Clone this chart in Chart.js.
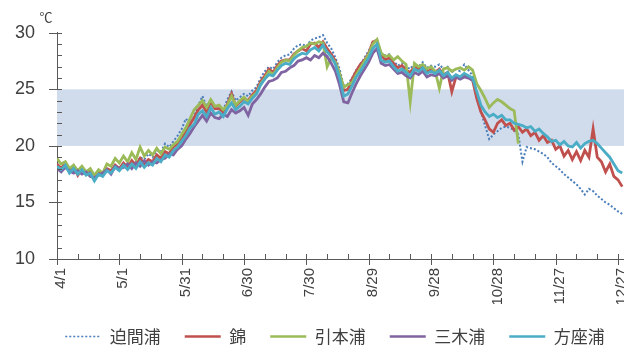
<!DOCTYPE html>
<html>
<head>
<meta charset="utf-8">
<script src="https://cdn.jsdelivr.net/npm/chart.js@4"></script>
<style>
  html, body { margin: 0; padding: 0; overflow: hidden; background: #fff; }
  canvas { display: block; }
</style>
</head>
<body>
<canvas id="c" width="680" height="353"></canvas>
<script>
// Days elapsed since 4/1 for each reading
const days = [
  0, 2, 4, 6, 8, 10, 12, 14, 16, 18, 20, 22, 24, 26, 28, 30, 32, 34, 36, 38,
  40, 42, 44, 46, 48, 50, 52, 54, 56, 58, 60, 62, 64, 66, 68, 70, 72, 74, 76, 78,
  80, 82, 84, 86, 88, 90, 92, 94, 96, 98, 100, 102, 104, 106, 108, 110, 112, 114, 116, 118,
  120, 122, 124, 126, 128, 130, 132, 134, 136, 138, 140, 142, 144, 146, 148, 150, 152, 154, 156, 158,
  160, 162, 164, 166, 168, 170, 172, 174, 176, 178, 180, 182, 184, 186, 188, 190, 192, 194, 196, 198,
  200, 202, 204, 206, 208, 210, 212, 214, 216, 218, 220, 222, 224, 226, 228, 230, 232, 234, 236, 238,
  240, 242, 244, 246, 248, 250, 252, 254, 256, 258, 260, 262, 264, 266, 268, 270, 272
];

// Axis tick positions (days) and their date labels
const tickDays = [0, 30, 60, 90, 120, 150, 180, 210, 240, 270];
const tickLabels = ['4/1', '5/1', '5/31', '6/30', '7/30', '8/29', '9/28', '10/28', '11/27', '12/27'];

const seriesNames = ['迫間浦', '錦', '引本浦', '三木浦', '方座浦'];

// Water temperature (℃)
const hazamaura = [
  18.3, 18.0, 18.2, 17.8, 17.9, 17.6, 17.8, 17.5, 17.6, 17.2, 17.6, 17.4, 17.9, 17.7, 18.2, 17.9, 18.4, 18.1, 18.6, 18.3,
  19.0, 18.8, 19.3, 19.0, 19.6, 19.5, 20.2, 19.9, 20.4, 20.9, 21.5, 22.4, 22.0, 22.6, 23.6, 24.4, 23.5, 24.0, 23.4, 23.6,
  23.2, 24.1, 24.8, 24.0, 24.3, 24.6, 24.4, 24.9, 25.2, 26.0, 26.6, 27.0, 26.8, 27.4, 27.8, 28.0, 28.1, 28.6, 28.9, 29.0,
  28.8, 29.3, 29.5, 29.6, 29.8, 29.1, 28.6, 27.8, 26.8, 25.3, 25.5, 26.0, 26.7, 27.2, 27.8, 28.4, 29.2, 29.4, 28.2, 28.0,
  28.1, 27.5, 27.1, 27.3, 27.0, 26.8, 27.3, 27.0, 27.4, 26.9, 27.1, 27.0, 27.2, 26.8, 27.0, 26.5, 26.8, 26.6, 27.2, 26.7,
  26.2, 24.6, 23.0, 21.8, 20.6, 21.0, 21.3, 21.6, 21.7, 21.6, 21.4, 21.0, 18.6, 19.9, 19.8, 19.7, 19.5, 19.3, 19.0, 18.5,
  18.2, 17.9, 17.5, 17.2, 16.9, 16.6, 16.2, 15.7, 16.2, 16.0, 15.6, 15.3, 15.0, 14.8, 14.5, 14.2, 14.0
];
const nishiki = [
  18.4, 18.0, 18.5, 17.7, 18.2, 17.4, 18.0, 17.6, 17.9, 17.1, 17.7, 17.5, 18.0, 17.8, 18.3, 18.0, 18.5, 18.1, 18.7, 18.3,
  18.9, 18.4, 18.8, 18.6, 19.2, 18.9, 19.5, 19.3, 19.9, 20.2, 20.7, 21.3, 21.9, 22.5, 23.2, 23.6, 23.0, 23.9, 23.3, 23.3,
  23.0, 23.7, 24.6, 23.5, 23.9, 24.2, 24.0, 24.5, 24.9, 25.7, 26.2, 26.8, 26.5, 27.1, 27.5, 27.6, 27.6, 28.1, 28.4, 28.6,
  28.4, 29.0, 29.1, 28.7, 29.2, 28.6, 28.1, 27.5, 26.3, 24.9, 25.0, 25.9, 26.6, 27.2, 27.6, 28.2, 29.2, 29.3, 28.0, 27.6,
  27.8, 27.3, 26.9, 27.1, 26.7, 26.5, 27.0, 26.8, 27.1, 26.6, 26.7, 26.5, 26.8, 26.3, 26.5, 24.8, 26.1, 26.0, 26.2, 26.1,
  25.8, 24.2, 23.0, 22.3, 21.5, 21.2, 22.0, 22.3, 21.8, 22.0, 21.4, 21.7, 21.2, 21.5, 20.9, 21.2, 20.5, 20.9, 20.3, 20.5,
  19.7, 20.0, 19.1, 19.6, 18.8, 19.5, 18.7, 19.6, 19.0, 21.5, 19.0, 18.6, 17.7, 18.4, 17.3, 17.0, 16.4
];
const hikimotoura = [
  18.9, 18.4, 18.6, 18.0, 18.3, 17.8, 18.2, 17.7, 18.0, 17.4, 17.9, 17.6, 18.4, 18.2, 18.9, 18.5, 19.1, 18.6, 19.4, 18.8,
  19.9, 19.1, 19.6, 19.2, 19.8, 19.3, 19.9, 19.7, 20.1, 20.4, 21.0, 21.6, 22.4, 23.2, 23.6, 24.0, 23.4, 24.1, 23.5, 23.6,
  23.2, 23.6, 24.4, 23.6, 24.0, 24.3, 23.9, 24.4, 24.7, 25.5, 26.0, 26.6, 26.3, 26.9, 27.4, 27.6, 27.5, 28.0, 28.4, 28.7,
  28.8, 29.1, 29.0, 29.2, 29.1, 27.0, 27.8, 27.4, 26.4, 25.2, 25.4, 25.6, 26.3, 26.9, 27.5, 28.1, 29.0, 29.4, 28.2, 27.9,
  28.0, 27.6, 27.9, 27.5, 27.2, 23.9, 27.3, 27.0, 27.2, 26.8, 27.0, 26.6, 25.1, 26.8, 26.9, 26.6, 26.8, 26.9, 26.7, 27.0,
  26.7, 25.5, 24.9, 24.2, 23.4, 23.8, 24.1, 23.9, 23.6, 23.3, 23.1, 20.2
];
const mikiura = [
  18.0, 17.7, 18.1, 17.8, 17.6, 17.8, 17.5, 17.7, 17.3, 17.2, 17.4, 17.6, 17.9, 17.5, 18.2, 18.0, 18.1, 18.4, 18.0, 18.5,
  18.2, 18.7, 18.3, 18.6, 18.5, 18.8, 18.9, 19.3, 19.2, 19.7, 20.0, 20.6, 21.1, 21.7, 22.2, 22.7, 22.2, 22.9, 22.5, 22.4,
  22.8, 22.6, 23.2, 22.9, 23.1, 23.4, 22.7, 23.7, 24.1, 24.6, 25.2, 25.7, 25.8, 26.0, 26.5, 26.6, 26.9, 27.1, 27.5, 27.6,
  27.8, 27.6, 28.0, 27.8, 28.2, 27.9, 27.3, 26.6, 25.4, 23.9, 23.8, 24.7, 25.5, 26.2, 26.8, 27.4, 28.2, 28.6, 27.3, 27.1,
  27.2, 26.8, 26.4, 26.5, 26.2, 26.0, 26.5, 26.3, 26.6, 26.1, 26.3, 26.2, 26.4, 26.0, 26.2, 25.8, 26.1, 25.9, 26.1, 26.0,
  25.8
];
const hozaura = [
  18.2, 17.9, 18.3, 17.6, 18.0, 17.5, 17.9, 17.4, 17.6, 16.9, 17.5, 17.3, 17.8, 17.6, 18.1, 17.8, 18.3, 17.9, 18.4, 18.0,
  18.6, 18.1, 18.5, 18.3, 18.9, 18.6, 19.2, 19.0, 19.6, 19.9, 20.4, 20.9, 21.6, 21.9, 22.8, 23.1, 22.6, 23.4, 22.8, 23.0,
  22.6, 23.3, 23.8, 23.2, 23.5, 23.9, 23.7, 24.2, 24.6, 25.4, 25.9, 26.3, 26.2, 26.7, 27.1, 27.3, 27.2, 27.7, 28.0, 28.2,
  28.1, 28.5, 28.7, 28.4, 28.9, 28.3, 27.9, 27.2, 26.0, 24.4, 24.6, 25.3, 26.1, 26.6, 27.2, 27.8, 28.6, 29.0, 27.6, 27.4,
  27.5, 27.0, 26.6, 26.8, 26.5, 26.2, 26.8, 26.6, 26.9, 26.4, 26.6, 26.4, 26.7, 26.2, 26.5, 26.0, 26.3, 26.1, 26.4, 26.2,
  26.0, 24.8, 23.6, 23.0, 22.6, 22.8, 22.5, 22.7, 22.3, 22.3, 22.0, 21.9, 21.8, 21.6, 21.7, 21.3, 21.5, 21.1, 20.8, 20.4,
  20.5, 20.1, 20.4, 20.0, 19.9, 20.3, 19.8, 20.2, 20.4, 20.5, 20.2, 19.8, 19.4, 19.0, 18.4, 17.8, 17.6
];

// Shaded reference band (℃)
const bandLow = 20;
const bandHigh = 25;

const seriesValues = [hazamaura, nishiki, hikimotoura, mikiura, hozaura];
const seriesColors = ['#4a7ebb', '#c0504d', '#9bbb59', '#8064a2', '#4bacc6'];
const seriesDash = [[2, 2], [], [], [], []];
const drawOrder = [5, 4, 3, 2, 1]; // 方座浦 painted last, on top

const axisColor = '#595959';
const textColor = '#404040';

function toPoints(vals) {
  return vals.map((v, i) => ({ x: days[i], y: v }));
}

const datasets = seriesValues.map((vals, i) => ({
  label: seriesNames[i],
  data: toPoints(vals),
  borderColor: seriesColors[i],
  backgroundColor: seriesColors[i],
  borderWidth: i === 0 ? 2 : 2.8,
  borderDash: seriesDash[i],
  pointRadius: 0,
  tension: 0,
  order: drawOrder[i]
}));

// Light band between bandLow and bandHigh, behind the lines
const bandPlugin = {
  id: 'band',
  beforeDatasetsDraw(chart) {
    const { ctx, chartArea } = chart;
    const y = chart.scales.y;
    const top = y.getPixelForValue(bandHigh);
    const bottom = y.getPixelForValue(bandLow);
    ctx.save();
    ctx.fillStyle = '#d0dcec';
    ctx.fillRect(chartArea.left, top, chartArea.right - chartArea.left, bottom - top);
    ctx.restore();
  }
};

// Major (crossing) and minor (inside) tick marks, plus the unit label
const ticksPlugin = {
  id: 'axisTicks',
  afterDraw(chart) {
    const { ctx, chartArea } = chart;
    const xs = chart.scales.x;
    const ys = chart.scales.y;
    ctx.save();
    ctx.strokeStyle = axisColor;
    ctx.lineWidth = 1;
    ctx.beginPath();
    for (let v = ys.min; v <= ys.max; v += 1) {
      const py = Math.round(ys.getPixelForValue(v)) + 0.5;
      const major = v % 5 === 0;
      ctx.moveTo(chartArea.left - (major ? 8 : 0), py);
      ctx.lineTo(chartArea.left + 5, py);
    }
    for (let d = 0; d <= xs.max; d += 10) {
      const px = Math.round(xs.getPixelForValue(d)) + 0.5;
      const major = d % 30 === 0;
      ctx.moveTo(px, chartArea.bottom - 5);
      ctx.lineTo(px, chartArea.bottom + (major ? 6 : 0));
    }
    ctx.stroke();
    ctx.fillStyle = textColor;
    ctx.font = '13px "Noto Sans CJK JP"';
    ctx.textAlign = 'center';
    ctx.textBaseline = 'middle';
    ctx.fillText('℃', 46, 17);
    ctx.restore();
  }
};

new Chart(document.getElementById('c'), {
  type: 'line',
  data: { datasets },
  plugins: [bandPlugin, ticksPlugin],
  options: {
    responsive: false,
    animation: false,
    devicePixelRatio: 1,
    layout: { padding: { top: 30, right: 10, left: 0, bottom: 0 } },
    font: { family: '"Liberation Sans", sans-serif' },
    plugins: {
      tooltip: { enabled: false },
      legend: {
        position: 'bottom',
        maxHeight: 49,
        labels: {
          usePointStyle: true,
          pointStyle: 'line',
          pointStyleWidth: 36,
          padding: 24,
          color: textColor,
          font: { size: 17, family: '"Noto Sans CJK JP", sans-serif' },
          sort: (a, b) => a.datasetIndex - b.datasetIndex,
          generateLabels(chart) {
            const items = Chart.defaults.plugins.legend.labels.generateLabels(chart);
            items.forEach(item => {
              const i = item.datasetIndex;
              item.lineDash = seriesDash[i];
              item.lineWidth = i === 0 ? 1.5 : 2.5;
            });
            return items;
          }
        }
      }
    },
    scales: {
      x: {
        type: 'linear',
        min: 0,
        max: 295,
        afterBuildTicks(scale) { scale.ticks = tickDays.map(v => ({ value: v })); },
        afterFit(scale) { scale.height = 45; },
        grid: { display: false, drawTicks: false },
        border: { color: axisColor, width: 1 },
        ticks: {
          autoSkip: false,
          minRotation: 90,
          maxRotation: 90,
          padding: 9,
          labelOffset: 4,
          color: textColor,
          font: { size: 15, family: '"Liberation Sans", sans-serif' },
          callback: (v) => tickLabels[tickDays.indexOf(v)]
        }
      },
      y: {
        min: 10,
        max: 30,
        afterFit(scale) { scale.width = 57; },
        grid: { display: false, drawTicks: false },
        border: { color: axisColor, width: 1 },
        ticks: {
          stepSize: 5,
          padding: 22,
          color: textColor,
          font: { size: 18, family: '"Liberation Sans", sans-serif' }
        }
      }
    }
  }
});
</script>
</body>
</html>
